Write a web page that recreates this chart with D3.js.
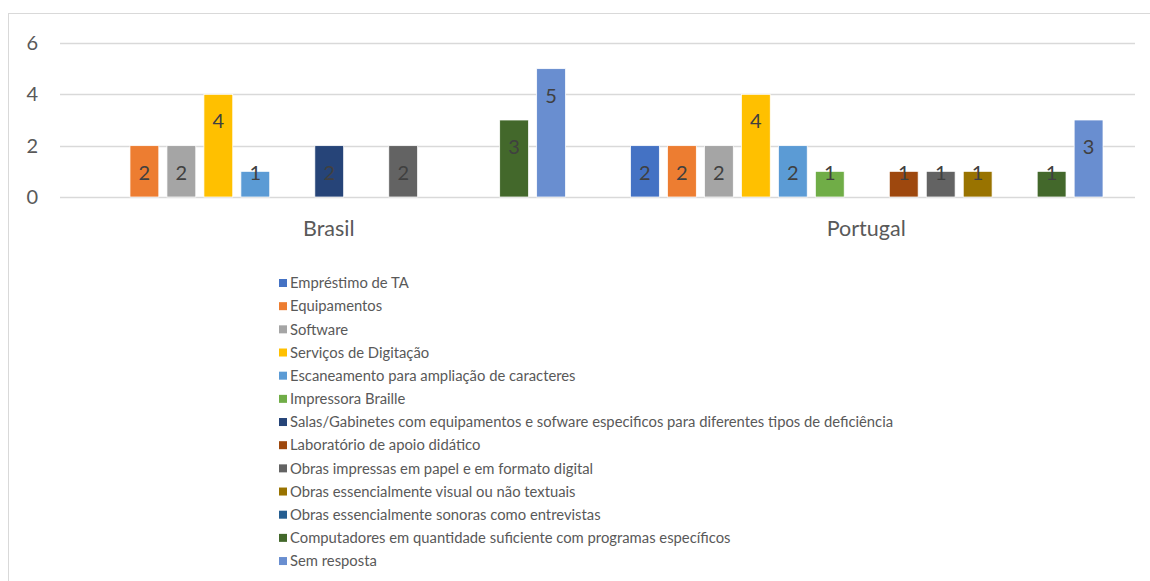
<!DOCTYPE html>
<html>
<head>
<meta charset="utf-8">
<script src="https://cdn.jsdelivr.net/npm/d3@7"></script>
<style>
  body { margin: 0; background: #fff; }
  svg text { font-family: Lato, "Open Sans", sans-serif; }
</style>
</head>
<body>
<script>
var categories = ['Brasil', 'Portugal'];
var seriesNames = [
  'Empréstimo de TA',
  'Equipamentos',
  'Software',
  'Serviços de Digitação',
  'Escaneamento para ampliação de caracteres',
  'Impressora Braille',
  'Salas/Gabinetes com equipamentos e sofware especificos para diferentes tipos de deficiência',
  'Laboratório de apoio didático',
  'Obras impressas em papel e em formato digital',
  'Obras essencialmente visual ou não textuais',
  'Obras essencialmente sonoras como entrevistas',
  'Computadores em quantidade suficiente com programas específicos',
  'Sem resposta'
];
var brasilValues   = [0, 2, 2, 4, 1, 0, 2, 0, 2, 0, 0, 3, 5];
var portugalValues = [2, 2, 2, 4, 2, 1, 0, 1, 1, 1, 0, 1, 3];
var yTicks = [0, 2, 4, 6];
var colors = ['#4472C4', '#ED7D31', '#A5A5A5', '#FFC000', '#5B9BD5', '#70AD47',
              '#264478', '#9E480E', '#636363', '#997300', '#255E91', '#43682B', '#698ED0'];

var width = 1150, height = 581;
var svg = d3.select('body').append('svg').attr('width', width).attr('height', height);

// chart border
svg.append('rect')
  .attr('x', 8.5).attr('y', 13.5)
  .attr('width', 1200).attr('height', 700)
  .attr('fill', 'none').attr('stroke', '#d9d9d9').attr('stroke-width', 1);

var plotLeft = 60, plotRight = 1135, plotTop = 43, plotBottom = 197;

var y = d3.scaleLinear().domain([0, 6]).range([plotBottom, plotTop]);
var x0 = d3.scaleBand().domain(categories).range([plotLeft, plotRight]).paddingInner(0).paddingOuter(0);
var x1 = d3.scaleBand().domain(d3.range(seriesNames.length))
  .range([33, x0.bandwidth() - 32]).paddingInner(0.22).paddingOuter(0);

// gridlines
svg.append('g').selectAll('line').data(yTicks).enter().append('line')
  .attr('x1', plotLeft).attr('x2', plotRight)
  .attr('y1', function (d) { return Math.round(y(d)) + 0.5; })
  .attr('y2', function (d) { return Math.round(y(d)) + 0.5; })
  .attr('stroke', '#d9d9d9').attr('stroke-width', 1.3);

// y tick labels
svg.append('g').selectAll('text').data(yTicks).enter().append('text')
  .attr('x', 38).attr('y', function (d) { return y(d); })
  .attr('dy', '0.35em').attr('text-anchor', 'end')
  .attr('font-size', 20).attr('fill', '#595959')
  .text(function (d) { return d; });

var table = categories.map(function (c, ci) {
  var vals = ci === 0 ? brasilValues : portugalValues;
  return { cat: c, values: vals.map(function (v, i) { return { i: i, v: v }; }) };
});

var groups = svg.append('g').selectAll('g').data(table).enter().append('g')
  .attr('transform', function (d) { return 'translate(' + x0(d.cat) + ',0)'; });

groups.selectAll('rect').data(function (d) { return d.values.filter(function (e) { return e.v > 0; }); })
  .enter().append('rect')
  .attr('x', function (d) { return x1(d.i); })
  .attr('width', x1.bandwidth())
  .attr('y', function (d) { return y(d.v); })
  .attr('height', function (d) { return y(0) - y(d.v); })
  .attr('fill', function (d) { return colors[d.i]; })
  .attr('stroke', '#ffffff').attr('stroke-width', 0.75);

groups.selectAll('text').data(function (d) { return d.values.filter(function (e) { return e.v > 0; }); })
  .enter().append('text')
  .attr('x', function (d) { return x1(d.i) + x1.bandwidth() / 2; })
  .attr('y', function (d) { return Math.min(y(d.v) + 27, y(0) - 24); })
  .attr('dy', '0.35em').attr('text-anchor', 'middle')
  .attr('font-size', 20).attr('fill', '#404040')
  .text(function (d) { return d.v; });

// category labels
svg.append('g').selectAll('text').data(categories).enter().append('text')
  .attr('x', function (d) { return x0(d) + x0.bandwidth() / 2; })
  .attr('y', 228).attr('dy', '0.35em').attr('text-anchor', 'middle')
  .attr('font-size', 21.5).attr('fill', '#595959')
  .text(function (d) { return d; });

// legend
var legend = svg.append('g').attr('transform', 'translate(279,283)');
var rows = legend.selectAll('g').data(seriesNames).enter().append('g')
  .attr('transform', function (d, i) { return 'translate(0,' + (i * 23.17) + ')'; });
rows.append('rect')
  .attr('x', 0).attr('y', -4).attr('width', 8).attr('height', 8)
  .attr('fill', function (d, i) { return colors[i]; });
rows.append('text')
  .attr('x', 11).attr('y', 0).attr('dy', '0.35em')
  .attr('font-size', 14.8).attr('fill', '#595959')
  .text(function (d) { return d; });
</script>
</body>
</html>
